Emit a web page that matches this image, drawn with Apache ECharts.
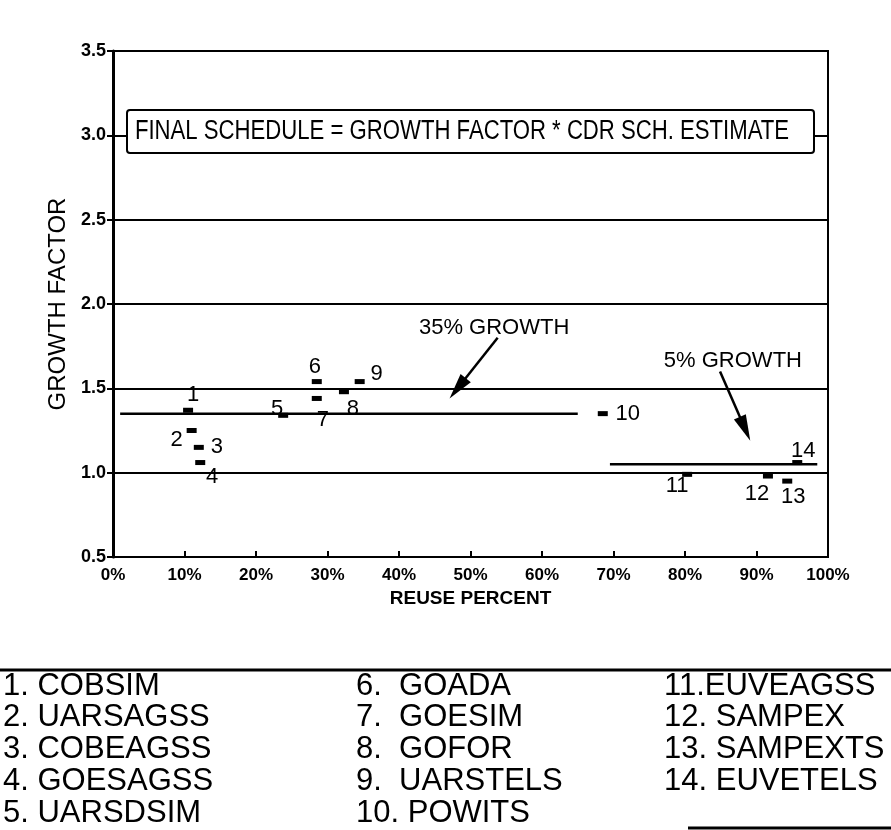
<!DOCTYPE html>
<html>
<head>
<meta charset="utf-8">
<script src="https://cdn.jsdelivr.net/npm/echarts@6/dist/echarts.min.js"></script>
<style>
  html, body { margin: 0; padding: 0; background: #fff; }
  #chart { width: 891px; height: 830px; }
</style>
</head>
<body>
<div id="chart"></div>
<script>
// project numbers 1..14: reuse percent and growth factor
const reusePct = [10.5, 11.0, 12.0, 12.2, 23.8, 28.5, 28.5, 32.3, 34.5, 68.5, 80.3, 91.6, 94.3, 95.7]
const growthFactor = [1.37, 1.25, 1.15, 1.06, 1.34, 1.54, 1.44, 1.48, 1.54, 1.35, 0.99, 0.98, 0.95, 1.06]

const legendLabels = [
  '1. COBSIM', '2. UARSAGSS', '3. COBEAGSS', '4. GOESAGSS', '5. UARSDSIM',
  '6.  GOADA', '7.  GOESIM', '8.  GOFOR', '9.  UARSTELS', '10. POWITS',
  '11.EUVEAGSS', '12. SAMPEX', '13. SAMPEXTS', '14. EUVETELS'
]

// reference growth levels and the arrows pointing at them
const growth35Line = [[1, 1.35], [65, 1.35]]
const growth5Line = [[69.5, 1.05], [98.5, 1.05]]
const arrow35 = [[53.8, 1.80], [48.2, 1.50]]
const arrow5 = [[84.9, 1.60], [88.4, 1.26]]
const noteTexts = ['35% GROWTH', '5% GROWTH']
const noteCoords = [[53.3, 1.86], [86.7, 1.66]]

// where each point number sits relative to its mark (px)
const labelOffsets = [
  [5, -15], [-15, 9], [18, 0], [12, 14], [-6, -6], [-2, -15], [6, 21],
  [9, 17], [17, -8], [25, 0], [-10, 12], [-11, 18], [6, 16], [6, -12]
]

const SANS = '"Liberation Sans", Arial, sans-serif'

const myChart = echarts.init(document.getElementById('chart'))

const legendGraphics = legendLabels.map((txt, i) => {
  const col = i < 5 ? 0 : (i < 10 ? 1 : 2)
  const row = i % 5
  const colX = [3, 356, 664]
  return {
    type: 'text',
    x: colX[col],
    y: 686 + row * 31.75,
    z: 100,
    style: {
      text: txt,
      font: '31px ' + SANS,
      fill: '#000',
      align: 'left',
      verticalAlign: 'middle'
    }
  }
})

myChart.setOption({
  animation: false,
  backgroundColor: '#fff',
  grid: {
    left: 113, right: 63, top: 51, bottom: 273,
    show: true, borderColor: '#000', borderWidth: 2
  },
  xAxis: {
    type: 'value',
    min: 0, max: 100, interval: 10,
    name: 'REUSE PERCENT',
    nameLocation: 'middle',
    nameGap: 31,
    nameTextStyle: { fontFamily: SANS, fontWeight: 'bold', fontSize: 19, color: '#000' },
    axisLine: { lineStyle: { color: '#000', width: 2 } },
    axisTick: { inside: true, length: 6, lineStyle: { color: '#000', width: 2 } },
    axisLabel: {
      margin: 10,
      fontFamily: SANS, fontWeight: 'bold', fontSize: 17, color: '#000',
      formatter: v => v + '%'
    },
    splitLine: { show: false }
  },
  yAxis: {
    type: 'value',
    min: 0.5, max: 3.5, interval: 0.5,
    name: 'GROWTH FACTOR',
    nameLocation: 'middle',
    nameRotate: 90,
    nameGap: 43,
    nameTextStyle: { fontFamily: SANS, fontSize: 24, color: '#000' },
    axisLine: { lineStyle: { color: '#000', width: 3 } },
    axisTick: { length: 6, lineStyle: { color: '#000', width: 2 } },
    axisLabel: {
      margin: 7,
      fontFamily: SANS, fontWeight: 'bold', fontSize: 18, color: '#000',
      formatter: v => v.toFixed(1)
    },
    splitLine: { show: true, lineStyle: { color: '#000', width: 2 } }
  },
  series: [
    {
      type: 'line',
      data: growth35Line,
      symbol: 'none',
      silent: true,
      lineStyle: { color: '#000', width: 2.5 },
      z: 3
    },
    {
      type: 'line',
      data: growth5Line,
      symbol: 'none',
      silent: true,
      lineStyle: { color: '#000', width: 2.5 },
      z: 3
    },
    {
      type: 'lines',
      coordinateSystem: 'cartesian2d',
      symbol: ['none', 'triangle'],
      symbolSize: [0, [13, 26]],
      lineStyle: { color: '#000', width: 2.5, opacity: 1 },
      data: [{ coords: arrow35 }, { coords: arrow5 }],
      z: 4
    },
    {
      type: 'scatter',
      symbol: 'rect',
      symbolSize: [10, 5],
      itemStyle: { color: '#000', opacity: 1 },
      data: reusePct.map((x, i) => ({
        value: [x, growthFactor[i]],
        label: { offset: labelOffsets[i] }
      })),
      label: {
        show: true,
        position: 'inside',
        formatter: p => String(p.dataIndex + 1),
        fontFamily: SANS, fontSize: 22, color: '#000', opacity: 1
      },
      z: 5
    },
    {
      type: 'scatter',
      symbolSize: 0,
      silent: true,
      itemStyle: { opacity: 1 },
      data: noteCoords.map((c, i) => ({ value: c, name: noteTexts[i] })),
      label: {
        show: true,
        position: 'inside',
        formatter: p => p.name,
        fontFamily: SANS, fontSize: 22, color: '#000', opacity: 1
      },
      z: 5
    }
  ],
  graphic: [
    {
      type: 'rect',
      z: 100,
      shape: { x: 127, y: 110, width: 687, height: 43, r: 3 },
      style: { fill: '#fff', stroke: '#000', lineWidth: 2 }
    },
    {
      type: 'text',
      z: 101,
      x: 462,
      y: 132,
      scaleX: 0.82,
      style: {
        text: 'FINAL SCHEDULE = GROWTH FACTOR * CDR SCH. ESTIMATE',
        font: '27px ' + SANS,
        fill: '#000',
        align: 'center',
        verticalAlign: 'middle'
      }
    },
    {
      type: 'line',
      z: 100,
      shape: { x1: 0, y1: 670, x2: 891, y2: 670 },
      style: { stroke: '#000', lineWidth: 3 }
    },
    {
      type: 'line',
      z: 100,
      shape: { x1: 688, y1: 828, x2: 891, y2: 828 },
      style: { stroke: '#000', lineWidth: 3 }
    }
  ].concat(legendGraphics)
})
</script>
</body>
</html>
